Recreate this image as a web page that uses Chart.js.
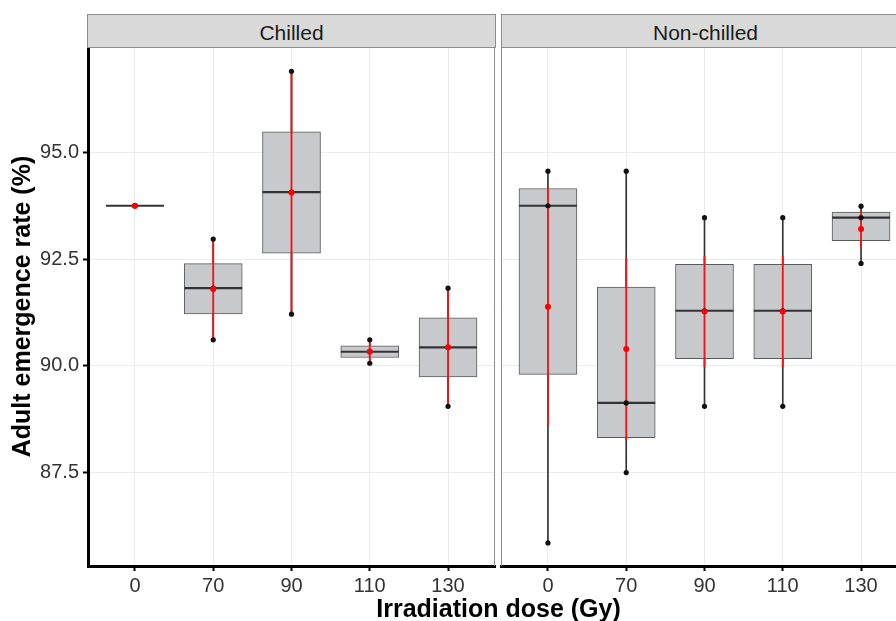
<!DOCTYPE html>
<html>
<head>
<meta charset="utf-8">
<script src="https://cdn.jsdelivr.net/npm/chart.js@4.4.0/dist/chart.umd.min.js"></script>
<style>
  html, body { margin: 0; padding: 0; background: #fff; }
  #wrap { position: relative; width: 896px; height: 621px; overflow: hidden; background: #fff; }
  canvas { position: absolute; top: 0; }
  .strip { position: absolute; top: 14px; height: 34px; box-sizing: border-box; background: #d9d9d9;
           border: 1px solid #8c8c8c; font-family: "Liberation Sans", Arial, sans-serif; font-size: 21px;
           color: #1a1a1a; text-align: center; line-height: 29px; padding-top: 3px; }
  #xtitle { position: absolute; left: 0; width: 997px; top: 596px; text-align: center;
            font-family: "Liberation Sans", Arial, sans-serif; font-weight: bold; font-size: 25px;
            line-height: 25px; color: #000; white-space: nowrap; }
</style>
</head>
<body>
<div id="wrap">
  <canvas id="left" width="500" height="621" style="left:0px;width:500px;height:621px"></canvas>
  <canvas id="right" width="409" height="621" style="left:500px;width:409px;height:621px"></canvas>
  <div class="strip" style="left:87px;width:409px;">Chilled</div>
  <div class="strip" style="left:501px;width:409px;">Non-chilled</div>
  <div id="xtitle">Irradiation dose (Gy)</div>
</div>
<script>
// ---- data ----
const doses = ['0', '70', '90', '110', '130'];
const yTicks = [87.5, 90.0, 92.5, 95.0];

// three replicate values per dose (lowest, middle, highest)
const chilledLow  = [93.75, 90.61, 91.21, 90.06, 89.05];
const chilledMid  = [93.75, 91.82, 94.07, 90.33, 90.43];
const chilledHigh = [93.75, 92.97, 96.90, 90.61, 91.82];

const nonChilledLow  = [85.85, 87.50, 89.05, 89.05, 92.40];
const nonChilledMid  = [93.75, 89.13, 91.29, 91.29, 93.47];
const nonChilledHigh = [94.56, 94.56, 93.47, 93.47, 93.74];

// red summary bars (as drawn)
const chilledErrLow  = [93.75, 90.61, 91.21, 90.06, 89.05];
const chilledErrHigh = [93.75, 92.97, 96.90, 90.61, 91.82];
const nonChilledErrLow  = [88.62, 88.27, 89.98, 89.98, 92.77];
const nonChilledErrHigh = [94.16, 92.54, 92.57, 92.57, 93.61];

const Y_MIN = 85.31, Y_MAX = 97.47;
const FONT = '"Liberation Sans", Arial, sans-serif';

// ---- box statistics (ggplot type-7 quantiles) ----
function quantile(sorted, p) {
  const h = (sorted.length - 1) * p;
  const lo = Math.floor(h), hi = Math.ceil(h);
  return sorted[lo] + (sorted[hi] - sorted[lo]) * (h - lo);
}
function boxStats(lows, mids, highs) {
  return doses.map((d, i) => {
    const v = [lows[i], mids[i], highs[i]].sort((a, b) => a - b);
    return { min: v[0], q1: quantile(v, 0.25), med: quantile(v, 0.5), q3: quantile(v, 0.75),
             max: v[v.length - 1], mean: v.reduce((a, b) => a + b, 0) / v.length };
  });
}

const panelBorder = {
  id: 'panelBorder',
  afterDraw(chart, args, opts) {
    const { ctx, chartArea: a } = chart;
    ctx.save();
    ctx.strokeStyle = '#8c8c8c';
    ctx.lineWidth = 1;
    ctx.beginPath();
    if (opts.leftEdge) {
      ctx.moveTo(a.left + 0.5, a.bottom);
      ctx.lineTo(a.left + 0.5, a.top + 0.5);
    } else {
      ctx.moveTo(a.left, a.top + 0.5);
    }
    ctx.lineTo(a.right - 0.5, a.top + 0.5);
    ctx.lineTo(a.right - 0.5, a.bottom);
    ctx.stroke();
    ctx.restore();
  }
};

function makePanel(id, lows, mids, highs, errLo, errHi, isLeft) {
  const st = boxStats(lows, mids, highs);
  const pts = arr => ({
    type: 'line', showLine: false, data: arr.map((v, i) => ({ x: i, y: v })),
    pointRadius: 2.6, pointBackgroundColor: '#111', pointBorderWidth: 0, order: 2
  });
  const datasets = [
    { type: 'bar', data: st.map((s, i) => ({ x: i, y: [s.min, s.max] })), barThickness: 1,
      backgroundColor: '#333', grouped: false, order: 6 },
    { type: 'bar', data: st.map((s, i) => ({ x: i, y: [s.q1, s.q3] })), barThickness: 58,
      backgroundColor: '#c8c9cd', borderColor: '#5a5a5a', borderWidth: 1, borderSkipped: false,
      grouped: false, order: 5 },
    { type: 'line', showLine: false, data: st.map((s, i) => ({ x: i, y: s.med })),
      pointStyle: 'line', pointRadius: 29, pointBorderWidth: 2.2, pointBorderColor: '#333', order: 4 },
    { type: 'bar', data: errLo.map((v, i) => ({ x: i, y: [v, errHi[i]] })), barThickness: 1.2,
      backgroundColor: '#f01414', grouped: false, order: 3 },
    pts(lows), pts(mids), pts(highs),
    { type: 'line', showLine: false, data: st.map((s, i) => ({ x: i, y: s.mean })),
      pointRadius: 3, pointBackgroundColor: '#ff0000', pointBorderWidth: 0, order: 1 }
  ];

  const yScale = isLeft ? {
    min: Y_MIN, max: Y_MAX,
    afterBuildTicks: s => { s.ticks = yTicks.map(v => ({ value: v })); },
    ticks: { callback: v => v.toFixed(1), font: { family: FONT, size: 20 }, color: '#333', padding: 4 },
    grid: { color: '#ebebeb', lineWidth: 1, tickColor: '#000', tickLength: 5, tickWidth: 2 },
    border: { color: '#000', width: 3 },
    title: { display: true, text: 'Adult emergence rate (%)', color: '#000',
             font: { family: FONT, size: 25, weight: 'bold' }, padding: { top: 4, bottom: 4 } },
    afterFit: s => { s.width = 84; s.paddingTop = 0; s.paddingBottom = 0; }
  } : {
    min: Y_MIN, max: Y_MAX,
    afterBuildTicks: s => { s.ticks = yTicks.map(v => ({ value: v })); },
    ticks: { display: false },
    grid: { color: '#ebebeb', lineWidth: 1, drawTicks: false },
    border: { display: false },
    afterFit: s => { s.width = 0; s.paddingTop = 0; s.paddingBottom = 0; }
  };

  return new Chart(document.getElementById(id), {
    type: 'bar',
    data: { datasets },
    plugins: [panelBorder],
    options: {
      responsive: false, animation: false, events: [],
      layout: { autoPadding: false,
                padding: isLeft ? { left: 4, top: 47, right: 5, bottom: 0 } : { left: 1, top: 47, right: 1, bottom: 0 } },
      plugins: { legend: { display: false }, tooltip: { enabled: false }, panelBorder: { leftEdge: !isLeft } },
      scales: {
        x: {
          type: 'linear', min: -0.6, max: 4.6, offset: false,
          afterBuildTicks: s => { s.ticks = doses.map((d, i) => ({ value: i })); },
          ticks: { callback: v => doses[v], font: { family: FONT, size: 20 }, color: '#333',
                   padding: 3, maxRotation: 0, autoSkip: false },
          grid: { offset: false, color: '#ebebeb', lineWidth: 1, tickColor: '#000', tickLength: 5, tickWidth: 2 },
          border: { color: '#000', width: 3 },
          afterFit: s => { s.height = 55; s.paddingLeft = 0; s.paddingRight = 0; }
        },
        y: yScale
      }
    }
  });
}

makePanel('left', chilledLow, chilledMid, chilledHigh, chilledErrLow, chilledErrHigh, true);
makePanel('right', nonChilledLow, nonChilledMid, nonChilledHigh, nonChilledErrLow, nonChilledErrHigh, false);
</script>
</body>
</html>
